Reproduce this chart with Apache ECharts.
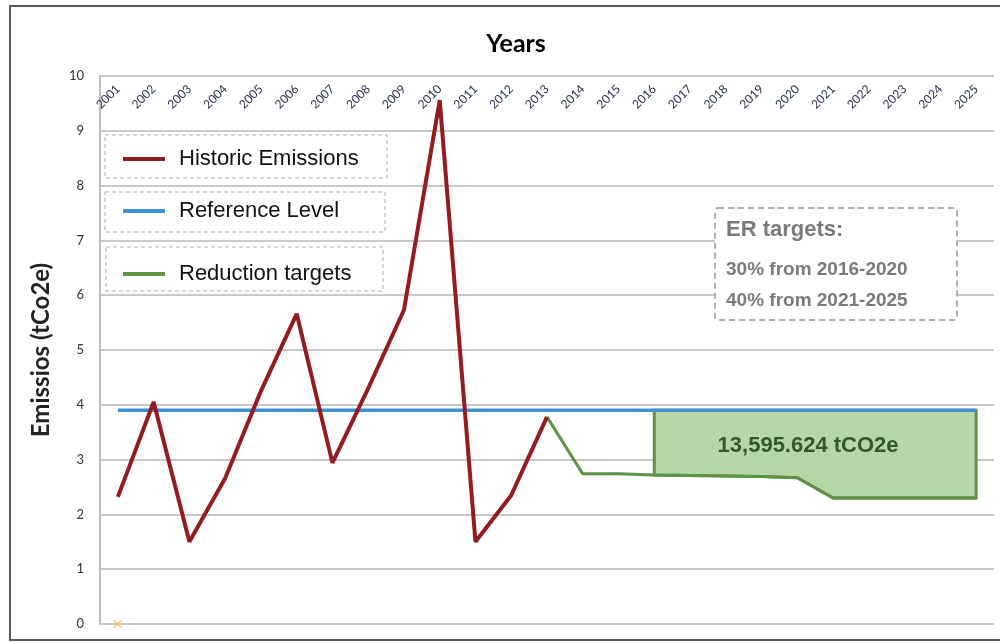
<!DOCTYPE html>
<html>
<head>
<meta charset="utf-8">
<script src="https://cdn.jsdelivr.net/npm/echarts@6/dist/echarts.min.js"></script>
<style>html,body{margin:0;padding:0;background:#fff}#c{width:1000px;height:642px}</style>
</head>
<body>
<div id="c"></div>
<script>
const years = ['2001','2002','2003','2004','2005','2006','2007','2008','2009','2010','2011','2012','2013','2014','2015','2016','2017','2018','2019','2020','2021','2022','2023','2024','2025'];
const historic = [2.32, 4.05, 1.50, 2.66, 4.25, 5.66, 2.94, 4.30, 5.73, 9.56, 1.50, 2.35, 3.78];
const referenceLevel = 3.9;
const reduction = [null,null,null,null,null,null,null,null,null,null,null,null,3.78, 2.74, 2.74, 2.72, 2.71, 2.70, 2.69, 2.67, 2.30, 2.30, 2.30, 2.30, 2.30];
const yTicks = [0,1,2,3,4,5,6,7,8,9,10];
const areaLabel = '13,595.624 tCO2e';
const erLines = ['ER targets:', '30% from 2016-2020', '40% from 2021-2025'];

const refData = years.map(() => referenceLevel);
const historicData = years.map((y, i) => i < historic.length ? historic[i] : null);
const gapStart = 15; // index of 2016

const chart = echarts.init(document.getElementById('c'));
chart.setOption({
  animation: false,
  title: {
    text: 'Years', left: 511, top: 26, textAlign: 'center',
    textStyle: {fontFamily: 'Lato', fontWeight: 'bold', fontSize: 25, color: '#000'}
  },
  legend: [
    {data: ['Historic Emissions'], left: 118, top: 143},
    {data: ['Reference Level'], left: 118, top: 195},
    {data: ['Reduction targets'], left: 118, top: 258}
  ].map(l => Object.assign(l, {
    icon: 'rect', itemWidth: 42, itemHeight: 4, selectedMode: false,
    textStyle: {fontFamily: 'Liberation Sans', fontSize: 22, color: '#111', padding: [0,0,0,9]}
  })),
  grid: {left: 100, right: 6, top: 76, bottom: 18, containLabel: false},
  xAxis: {
    type: 'category', data: years, position: 'top', boundaryGap: true,
    axisLine: {show: false}, axisTick: {show: false},
    axisLabel: {inside: true, rotate: 45, fontFamily: 'Lato', fontSize: 12, color: '#1f2d4d', margin: 11, interval: 0}
  },
  yAxis: {
    type: 'value', min: 0, max: 10, interval: 1,
    name: 'Emissios (tCo2e)', nameLocation: 'middle', nameGap: 47, nameRotate: 90,
    nameTextStyle: {fontFamily: 'Lato', fontWeight: 'bold', fontSize: 24, color: '#222'},
    axisLine: {show: true, lineStyle: {color: '#bdbdbd', width: 2}},
    axisTick: {show: false},
    axisLabel: {fontFamily: 'Lato', fontSize: 13, color: '#333', margin: 16},
    splitLine: {lineStyle: {color: '#c8c8c8', width: 2}}
  },
  graphic: [
    {type: 'rect', shape: {x: 10, y: 6, width: 1000, height: 634}, style: {fill: 'none', stroke: '#5a5a5a', lineWidth: 2}, z: 100},
    {type: 'rect', shape: {x: 105, y: 135, width: 282, height: 43}, style: {fill: '#fff', stroke: '#aaa', lineWidth: 1, lineDash: [4, 3]}, z: 1},
    {type: 'rect', shape: {x: 105, y: 192, width: 280, height: 40}, style: {fill: '#fff', stroke: '#aaa', lineWidth: 1, lineDash: [4, 3]}, z: 1},
    {type: 'rect', shape: {x: 106, y: 247, width: 277, height: 44}, style: {fill: '#fff', stroke: '#aaa', lineWidth: 1, lineDash: [4, 3]}, z: 1},
    {type: 'rect', shape: {x: 715, y: 208, width: 242, height: 112, r: 3}, style: {fill: '#fff', stroke: '#b0b0b0', lineWidth: 2, lineDash: [6, 4]}, z: 1},
    {type: 'text', x: 726, y: 230, style: {text: erLines[0], fontFamily: 'Liberation Sans', fontWeight: 'bold', fontSize: 22, fill: '#7a7a7a', verticalAlign: 'middle'}, z: 2},
    {type: 'text', x: 726, y: 270, style: {text: erLines[1], fontFamily: 'Liberation Sans', fontWeight: 'bold', fontSize: 19, fill: '#7a7a7a', verticalAlign: 'middle'}, z: 2},
    {type: 'text', x: 726, y: 301, style: {text: erLines[2], fontFamily: 'Liberation Sans', fontWeight: 'bold', fontSize: 19, fill: '#7a7a7a', verticalAlign: 'middle'}, z: 2}
  ],
  series: [
    {
      name: 'gap', type: 'custom', z: 3,
      renderItem: function (params, api) {
        if (params.dataIndex !== 0) return null;
        const pts = [];
        for (let i = gapStart; i < years.length; i++) pts.push(api.coord([i, referenceLevel]));
        for (let i = years.length - 1; i >= gapStart; i--) pts.push(api.coord([i, reduction[i]]));
        const c = api.coord([(gapStart + years.length - 1) / 2, (referenceLevel + 2.7) / 2]);
        return {
          type: 'group',
          children: [
            {type: 'polygon', shape: {points: pts}, style: {fill: '#b7d7a6', stroke: '#5f9148', lineWidth: 3}},
            {type: 'text', style: {text: areaLabel, x: c[0] - 25, y: c[1] + 3, align: 'center', verticalAlign: 'middle',
              fontFamily: 'Liberation Sans', fontWeight: 'bold', fontSize: 22, fill: '#2f5a28'}}
          ]
        };
      },
      data: [[0, 0]], silent: true
    },
    {
      name: 'Historic Emissions', type: 'line', data: historicData, z: 5,
      symbol: 'none', itemStyle: {color: '#921c1f'}, lineStyle: {color: '#921c1f', width: 4}
    },
    {
      name: 'Reference Level', type: 'line', data: refData, z: 4,
      symbol: 'none', itemStyle: {color: '#3f92d2'}, lineStyle: {color: '#3f92d2', width: 3.5}
    },
    {
      name: 'Reduction targets', type: 'line', data: reduction, z: 4,
      symbol: 'none', itemStyle: {color: '#5f9148'}, lineStyle: {color: '#5f9148', width: 3}
    },
    {
      name: 'marker', type: 'scatter', data: [[0, 0]], z: 6,
      symbol: 'path://M0,1L1,0L5,4L9,0L10,1L6,5L10,9L9,10L5,6L1,10L0,9L4,5Z', symbolSize: 9,
      itemStyle: {color: '#f5c542'}
    }
  ]
});
</script>
</body>
</html>
